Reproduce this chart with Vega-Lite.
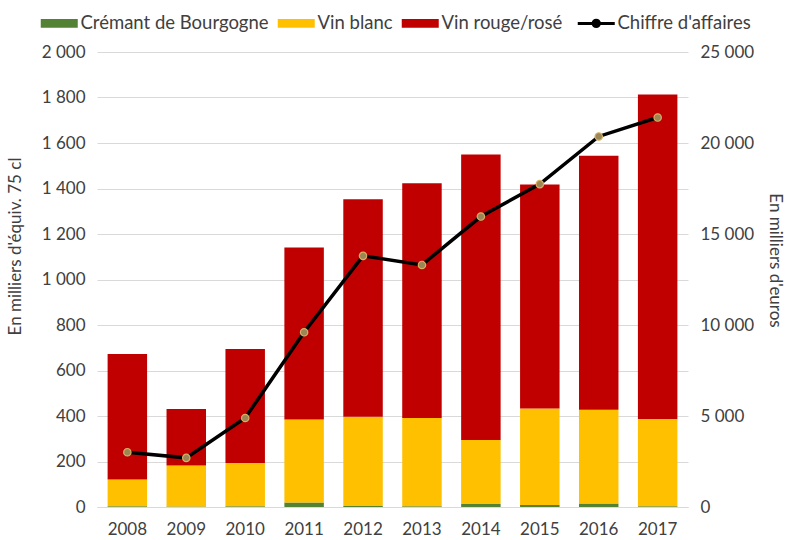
{
  "$schema": "https://vega.github.io/schema/vega-lite/v6.json",
  "autosize": {"type": "none"},
  "width": 591,
  "height": 455,
  "padding": {"left": 97, "top": 52, "right": 99, "bottom": 33},
  "background": "white",
  "config": {
    "view": {"stroke": null},
    "font": "Lato",
    "locale": {"number": {"decimal": ",", "thousands": " ", "grouping": [3], "currency": ["", " €"]}},
    "axis": {"labelFont": "Lato", "titleFont": "Lato", "labelColor": "#404040", "titleColor": "#404040", "labelFontSize": 17, "titleFontSize": 17, "titleFontWeight": "normal"},
    "legend": {"labelFont": "Lato", "labelFontSize": 18.5, "labelColor": "#404040", "labelLimit": 400}
  },
  "datasets": {
    "volumes": [
      {"annee": "2008", "categorie": "Crémant de Bourgogne", "valeur": 3},
      {"annee": "2008", "categorie": "Vin blanc", "valeur": 118},
      {"annee": "2008", "categorie": "Vin rouge/rosé", "valeur": 552},
      {"annee": "2009", "categorie": "Crémant de Bourgogne", "valeur": 2},
      {"annee": "2009", "categorie": "Vin blanc", "valeur": 180},
      {"annee": "2009", "categorie": "Vin rouge/rosé", "valeur": 249},
      {"annee": "2010", "categorie": "Crémant de Bourgogne", "valeur": 3},
      {"annee": "2010", "categorie": "Vin blanc", "valeur": 190},
      {"annee": "2010", "categorie": "Vin rouge/rosé", "valeur": 501},
      {"annee": "2011", "categorie": "Crémant de Bourgogne", "valeur": 20},
      {"annee": "2011", "categorie": "Vin blanc", "valeur": 365},
      {"annee": "2011", "categorie": "Vin rouge/rosé", "valeur": 756},
      {"annee": "2012", "categorie": "Crémant de Bourgogne", "valeur": 4},
      {"annee": "2012", "categorie": "Vin blanc", "valeur": 393},
      {"annee": "2012", "categorie": "Vin rouge/rosé", "valeur": 956},
      {"annee": "2013", "categorie": "Crémant de Bourgogne", "valeur": 3},
      {"annee": "2013", "categorie": "Vin blanc", "valeur": 388},
      {"annee": "2013", "categorie": "Vin rouge/rosé", "valeur": 1032},
      {"annee": "2014", "categorie": "Crémant de Bourgogne", "valeur": 13},
      {"annee": "2014", "categorie": "Vin blanc", "valeur": 282},
      {"annee": "2014", "categorie": "Vin rouge/rosé", "valeur": 1255},
      {"annee": "2015", "categorie": "Crémant de Bourgogne", "valeur": 9},
      {"annee": "2015", "categorie": "Vin blanc", "valeur": 424},
      {"annee": "2015", "categorie": "Vin rouge/rosé", "valeur": 985},
      {"annee": "2016", "categorie": "Crémant de Bourgogne", "valeur": 15},
      {"annee": "2016", "categorie": "Vin blanc", "valeur": 412},
      {"annee": "2016", "categorie": "Vin rouge/rosé", "valeur": 1117},
      {"annee": "2017", "categorie": "Crémant de Bourgogne", "valeur": 3},
      {"annee": "2017", "categorie": "Vin blanc", "valeur": 384},
      {"annee": "2017", "categorie": "Vin rouge/rosé", "valeur": 1426}
    ],
    "ca": [
      {"annee": "2008", "ca": 3010},
      {"annee": "2009", "ca": 2700},
      {"annee": "2010", "ca": 4890},
      {"annee": "2011", "ca": 9600},
      {"annee": "2012", "ca": 13800},
      {"annee": "2013", "ca": 13300},
      {"annee": "2014", "ca": 15960},
      {"annee": "2015", "ca": 17740},
      {"annee": "2016", "ca": 20360},
      {"annee": "2017", "ca": 21400}
    ]
  },
  "encoding": {
    "x": {
      "field": "annee", "type": "ordinal",
      "scale": {"paddingInner": 0.33, "paddingOuter": 0.18},
      "axis": {"title": null, "labelAngle": 0, "ticks": false, "domain": true, "domainColor": "#d9d9d9", "labelPadding": 14}
    }
  },
  "layer": [
    {
      "data": {"name": "volumes"},
      "mark": {"type": "bar"},
      "encoding": {
        "y": {
          "field": "valeur", "type": "quantitative", "stack": "zero",
          "scale": {"domain": [0, 2000], "nice": false},
          "axis": {"title": "En milliers d'équiv. 75 cl", "values": [0,200,400,600,800,1000,1200,1400,1600,1800,2000], "format": ",d", "grid": true, "gridColor": "#d9d9d9", "domain": false, "ticks": false, "labelPadding": 12, "titlePadding": 17, "titleY": 194}
        },
        "color": {
          "field": "categorie", "type": "nominal",
          "scale": {"domain": ["Crémant de Bourgogne", "Vin blanc", "Vin rouge/rosé", "Chiffre d'affaires"], "range": ["#548235", "#FFC000", "#C00000", "#000000"]},
          "legend": {
            "title": null, "orient": "none", "legendX": -47, "legendY": -38, "direction": "horizontal",
            "symbolSize": 1369, "columnPadding": 8, "labelOffset": 12,
            "encode": {"symbols": {"update": {
              "shape": {"signal": "datum.value == \"Chiffre d'affaires\" ? 'M-1,0H-0.2M0.2,0H1M-0.17,0A0.17,0.17 0 1,0 0.17,0A0.17,0.17 0 1,0 -0.17,0' : 'M-1,-0.243H1V0.243H-1Z'"},
              "stroke": {"signal": "datum.value == \"Chiffre d'affaires\" ? '#000000' : 'transparent'"},
              "fill": {"signal": "datum.value == \"Chiffre d'affaires\" ? '#9a8656' : scale('color', datum.value)"},
              "strokeWidth": {"signal": "datum.value == \"Chiffre d'affaires\" ? 3 : 0"}
            }}}
          }
        },
        "order": {"field": "categorie", "sort": "ascending"}
      }
    },
    {
      "data": {"name": "ca"},
      "layer": [
        {
          "mark": {"type": "line", "strokeWidth": 3.5},
          "encoding": {
            "y": {
              "field": "ca", "type": "quantitative",
              "scale": {"domain": [0, 25000], "nice": false},
              "axis": {"orient": "right", "title": "En milliers d'euros", "values": [0,5000,10000,15000,20000,25000], "format": ",d", "grid": false, "domain": false, "ticks": false, "labelPadding": 12, "titlePadding": 12, "titleY": 208}
            },
            "color": {"datum": "Chiffre d'affaires"}
          }
        },
        {
          "mark": {"type": "point", "filled": true, "fill": "#9a8656", "stroke": "#d6b062", "strokeWidth": 1.2, "size": 55, "opacity": 1},
          "encoding": {
            "y": {"field": "ca", "type": "quantitative"}
          }
        }
      ]
    }
  ],
  "resolve": {"scale": {"y": "independent"}}
}
